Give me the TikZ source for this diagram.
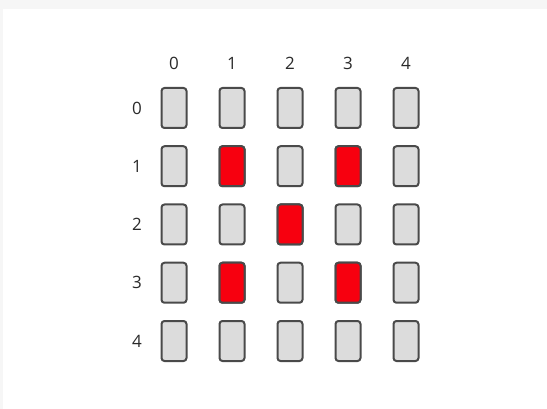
\documentclass[tikz,border=0pt]{standalone}
\usepackage{fontspec}
\setmainfont{Open Sans}
\definecolor{cellgray}{HTML}{DCDCDC}
\definecolor{cellred}{HTML}{F7000F}
\definecolor{cellborder}{HTML}{4A4A4A}
\definecolor{labelcol}{HTML}{2A2A2A}
\definecolor{bgstrip}{HTML}{F6F6F6}
\begin{document}
\begin{tikzpicture}[x=1pt,y=-1pt,
  cell/.style={draw=cellborder,line width=2pt,rounded corners=3pt,fill=cellgray,
    minimum width=25pt,minimum height=40pt,inner sep=0pt},
  hot/.style={cell,fill=cellred},
  lbl/.style={text=labelcol,font=\fontsize{17}{19}\selectfont,inner sep=0pt}]
  \useasboundingbox (0,0) rectangle (547,409);
  \fill[bgstrip] (0,0) rectangle (547,409);
  \fill[white] (3,9) rectangle (547,409);
  \foreach \c in {0,...,4} {
    \node[lbl] (col\c) at (174+58*\c,63) {\c};
  }
  \foreach \r in {0,...,4} {
    \node[lbl] (row\r) at (137,108+58.25*\r) {\r};
    \foreach \c in {0,...,4} {
      \node[cell] (c\r\c) at (174+58*\c,108+58.25*\r) {};
    }
  }
  \foreach \r/\c in {1/1,1/3,2/2,3/1,3/3} {
    \node[hot] (h\r\c) at (174+58*\c,108+58.25*\r) {};
  }
\end{tikzpicture}
\end{document}
